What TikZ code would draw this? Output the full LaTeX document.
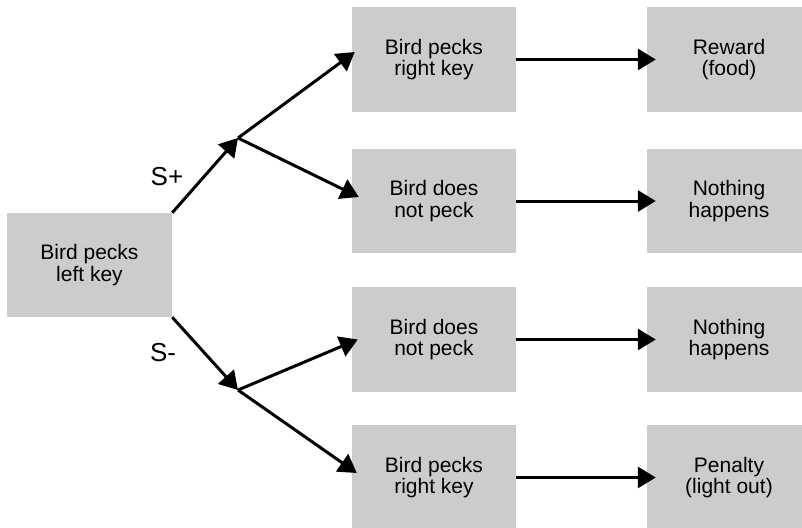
\documentclass[tikz,border=0pt]{standalone}
\usepackage{fontspec}
\setmainfont{Liberation Sans}
\usetikzlibrary{arrows.meta}
\definecolor{boxgray}{HTML}{CCCCCC}
\begin{document}
\begin{tikzpicture}[x=1pt,y=-1pt,
  box/.style={fill=boxgray, draw=none, minimum width=164pt, minimum height=105pt,
    inner sep=0pt, align=center, font=\fontsize{21}{21.5}\selectfont},
  arr/.style={line width=3pt, -{Triangle[length=18pt,width=21pt]}},
  lab/.style={font=\fontsize{26}{28}\selectfont, inner sep=0pt}]
\useasboundingbox (0,0) rectangle (802,527);
\path[clip] (0,0) rectangle (802,527);
\node[box, minimum width=165pt, minimum height=104pt] (L) at (89.5,265) {Bird pecks\\left key};
\node[box] (m1) at (434,59.5) {Bird pecks\\right key};
\node[box, minimum height=104pt] (m2) at (434,201) {Bird does\\not peck};
\node[box] (m3) at (434,339.5) {Bird does\\not peck};
\node[box] (m4) at (434,477.5) {Bird pecks\\right key};
\node[box] (r1) at (729,59.5) {Reward\\(food)};
\node[box, minimum height=104pt] (r2) at (729,201) {Nothing\\happens};
\node[box] (r3) at (729,339.5) {Nothing\\happens};
\node[box] (r4) at (729,477.5) {Penalty\\(light out)};
\coordinate (j1) at (238,138);
\coordinate (j2) at (238,390);
\node[lab] (sp) at (167,177) {S+};
\node[lab] (sm) at (163,353) {S-};
\draw[arr] (L.north east) -- (j1);
\draw[arr] (L.south east) -- (j2);
\draw[arr] (j1) -- ([xshift=3pt,yshift=7.5pt]m1.west);
\draw[arr] (j1) -- ([xshift=7pt,yshift=4pt]m2.west);
\draw[arr] (j2) -- ([xshift=6pt]m3.west);
\draw[arr] (j2) -- ([xshift=5pt,yshift=4.5pt]m4.west);
\draw[arr] (m1.east) -- ([xshift=9pt]r1.west);
\draw[arr] (m2.east) -- ([xshift=9pt]r2.west);
\draw[arr] (m3.east) -- ([xshift=9pt]r3.west);
\draw[arr] (m4.east) -- ([xshift=9pt]r4.west);
\end{tikzpicture}
\end{document}
